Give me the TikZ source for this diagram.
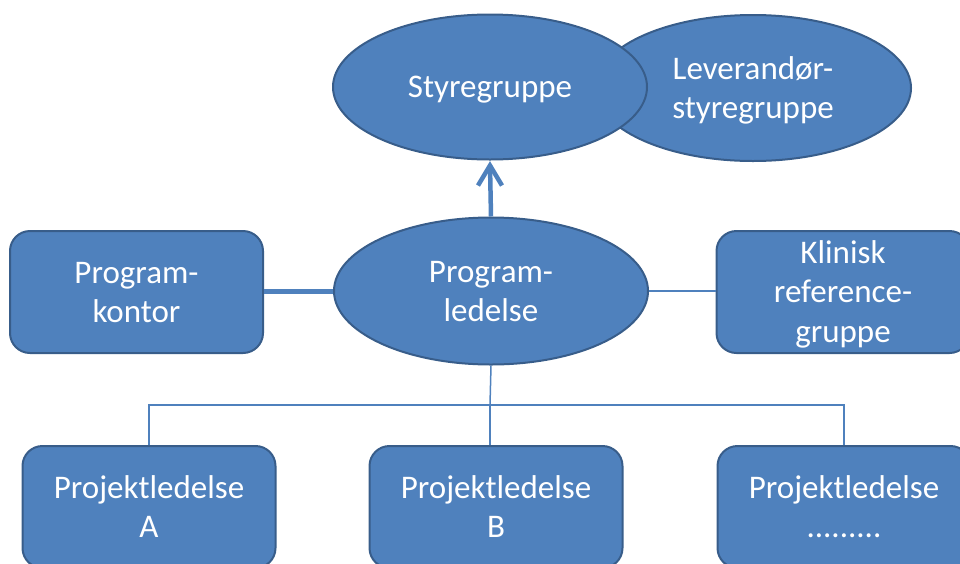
\documentclass[tikz,border=0pt]{standalone}
\usepackage{fontspec}
\setmainfont{Carlito}
\usetikzlibrary{shapes.geometric,arrows.meta}

\definecolor{boxfill}{HTML}{4F81BD}
\definecolor{boxline}{HTML}{385D8A}
\definecolor{wire}{HTML}{4F81BD}

% line strut so every text line gets the same box, as in the slide layout
\newcommand\lnstrut{\rule[-0.17em]{0pt}{1em}}

\tikzset{
  unit/.style={fill=boxfill, draw=boxline, line width=2pt, text=white,
    font=\fontsize{33}{39.5}\selectfont, align=center, inner sep=0pt},
  oval/.style={unit, ellipse, minimum width=314pt, minimum height=145pt},
  card/.style={unit, rectangle, rounded corners=20pt,
    minimum width=253pt, minimum height=122pt},
  thinwire/.style={draw=wire, line width=1.5pt},
  thickwire/.style={draw=wire, line width=5pt},
  upwire/.style={draw=wire, line width=4.5pt},
}

\begin{document}
\begin{tikzpicture}[x=1pt,y=-1pt]
  \clip (0,0) rectangle (960,563);

  % steering groups
  \node[oval, minimum width=316pt, minimum height=146pt] (lev) at (753,88)
    {\lnstrut Leverandør-\\\lnstrut styregruppe};
  \node[oval] (styr) at (490,87) {\lnstrut Styregruppe};

  % programme level
  \node[oval, minimum height=147pt] (prog) at (491,291)
    {\lnstrut Program-\\\lnstrut ledelse};
  \node[card] (kontor) at (136.5,292) {\lnstrut Program-\\\lnstrut kontor};
  \node[card] (klin) at (843,292)
    {\lnstrut Klinisk\\\lnstrut reference-\\\lnstrut gruppe};

  % projects
  \node[card] (pa) at (149,507) {\lnstrut Projektledelse\\\lnstrut A};
  \node[card] (pb) at (496,507) {\lnstrut Projektledelse\\\lnstrut B};
  \node[card] (pc) at (844,507) {\lnstrut Projektledelse\\\lnstrut .........};

  % reporting line with an open chevron head
  \coordinate (tip) at ([yshift=-5pt]styr.south);
  \draw[upwire] (prog.north) -- (tip);
  \draw[upwire, line join=miter]
    ([xshift=-12pt,yshift=-20pt]tip) -- (tip) -- ([xshift=12pt,yshift=-20pt]tip);

  % side connectors
  \draw[thickwire] (prog.west) -- (prog.west -| kontor.east);
  \draw[thinwire] (prog.east) -- (prog.east -| klin.west);

  % project bus
  \coordinate (bus) at (490,405);
  \draw[thinwire] (prog.south) -- (bus);
  \draw[thinwire] (pa.north) |- (bus) -| (pc.north);
  \draw[thinwire] (bus) -- (bus |- pb.north);
\end{tikzpicture}
\end{document}
